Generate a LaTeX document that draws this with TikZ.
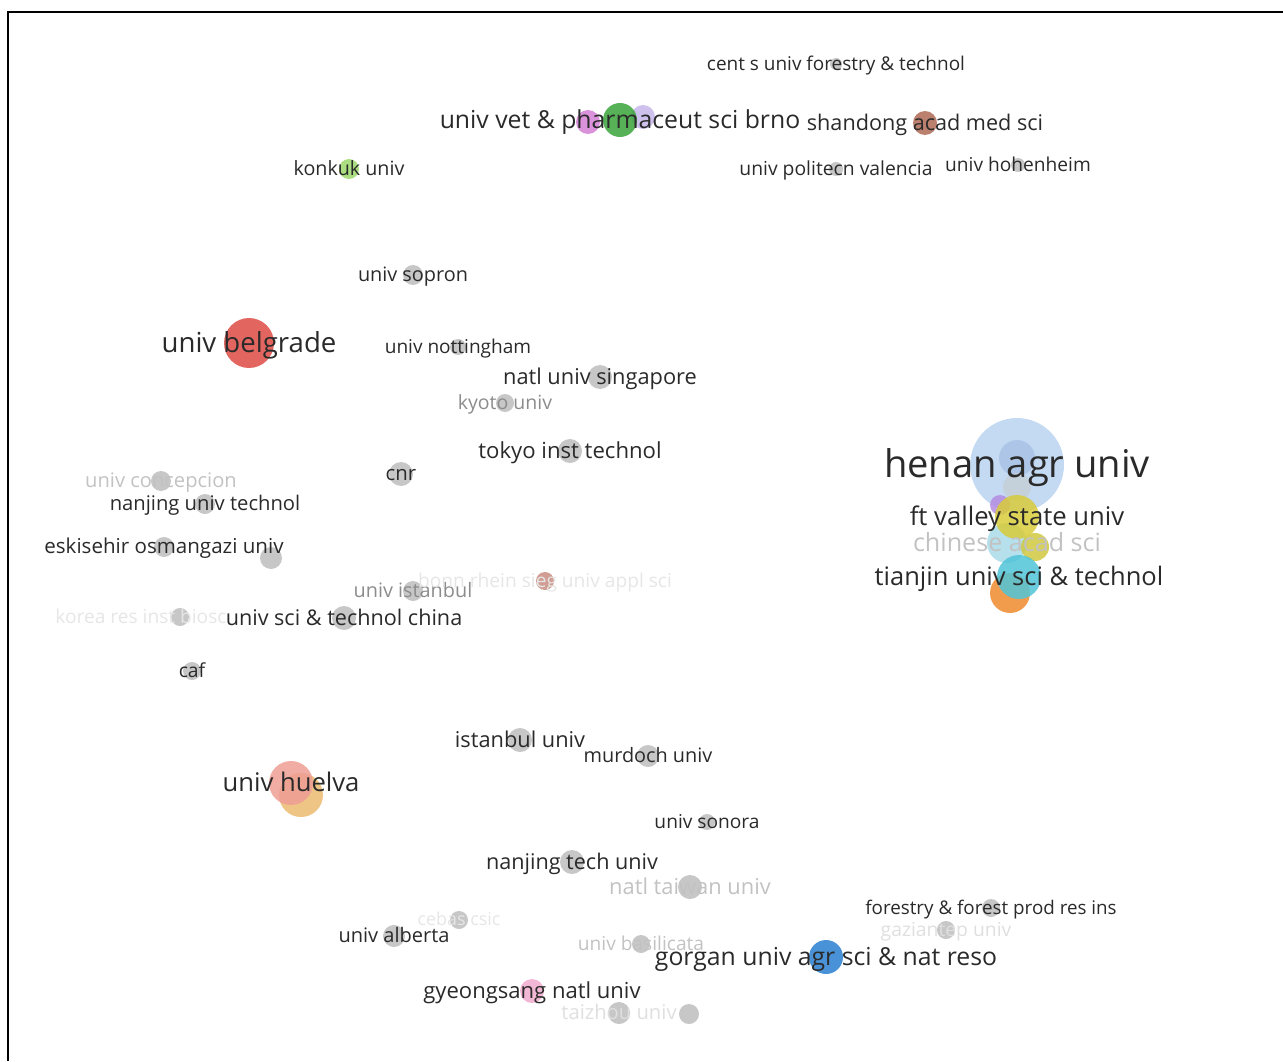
\documentclass[tikz,border=0pt]{standalone}
\usepackage{fontspec}
\setmainfont{Open Sans}
\usepackage{xcolor}
\usetikzlibrary{shapes}
\definecolor{txt}{HTML}{2A2A2A}
\definecolor{fog}{HTML}{C2C2C2}
\definecolor{mist}{HTML}{E6E6E6}
\definecolor{ash}{HTML}{8C8C8C}
\definecolor{dot}{HTML}{BDBDBD}
\definecolor{cpink}{HTML}{D47FD4}
\definecolor{clav}{HTML}{C7B6EA}
\definecolor{cgreen}{HTML}{3AA43A}
\definecolor{cbrown}{HTML}{B06A55}
\definecolor{clime}{HTML}{9BD86B}
\definecolor{cred}{HTML}{DD4B43}
\definecolor{csky}{HTML}{B9D3F0}
\definecolor{csky2}{HTML}{A9C4E6}
\definecolor{cslate}{HTML}{C5CFD6}
\definecolor{cpurp}{HTML}{B48DE0}
\definecolor{caqua}{HTML}{A9DBE8}
\definecolor{colive}{HTML}{D0C840}
\definecolor{cyell}{HTML}{D8CC3A}
\definecolor{corng}{HTML}{EE8A2E}
\definecolor{ccyan}{HTML}{4FC4D8}
\definecolor{crose}{HTML}{C98D80}
\definecolor{ctan}{HTML}{ECBB70}
\definecolor{csalm}{HTML}{EE9D94}
\definecolor{cblue}{HTML}{2A7FD0}
\definecolor{cblush}{HTML}{F0AACC}
\tikzstyle{bub}=[circle,inner sep=0pt,draw=none,fill opacity=0.85]
\tikzstyle{rad}=[minimum size=#1*0.04cm]
\tikzstyle{lab}=[inner sep=0pt,text=txt,anchor=base,yshift=-0.33*#1pt,font=\fontsize{#1}{#1}\selectfont]
\def\org#1#2#3#4{\node[bub,rad=#3,fill=#4] (#1) at (#2) {}}

\begin{document}
\begin{tikzpicture}[x=0.02cm,y=-0.02cm]
    \useasboundingbox (0,0) rectangle (1283,1061);
    \draw[line width=1.2pt] (8,1061) -- (8,12) -- (1283,12);
    % bubbles
    \org{b-cent}{836,64}{6}{dot};
    \org{b-vetpink}{588,122}{12}{cpink};
    \org{b-vetlav}{643,117}{12}{clav};
    \org{b-vet}{620,120}{17}{cgreen};
    \org{b-shand}{925,123}{12}{cbrown};
    \org{b-konkuk}{349,169}{10}{clime};
    \org{b-valen}{836,169}{7}{dot};
    \org{b-hohen}{1018,165}{7}{dot};
    \org{b-sopron}{413,275}{10}{dot};
    \org{b-belgr}{249,343}{25}{cred};
    \org{b-notts}{458,347}{8}{dot};
    \org{b-singa}{600,377}{12}{dot};
    \org{b-kyoto}{505,403}{9}{dot};
    \org{b-tokyo}{570,451}{12}{dot};
    \org{b-cnr}{401,474}{12}{dot};
    \org{b-henan}{1017,465}{47}{csky};
    \org{b-henin}{1017,458}{18}{csky2};
    \org{b-hengr}{1017,487}{14}{cslate};
    \org{b-ftpur}{1000,505}{10}{cpurp};
    \org{b-chin}{1007,543}{20}{caqua};
    \org{b-chinol}{1035,547}{14}{colive};
    \org{b-ftval}{1017,517}{22}{cyell};
    \org{b-tjor}{1010,593}{20}{corng};
    \org{b-tianj}{1019,577}{22}{ccyan};
    \org{b-conce}{161,481}{10}{dot};
    \org{b-nanjt}{205,504}{10}{dot};
    \org{b-eski}{164,547}{10}{dot};
    \org{b-eskib}{271,558}{11}{dot};
    \org{b-istu}{413,591}{10}{dot};
    \org{b-bonn}{545,581}{9}{crose};
    \org{b-korea}{180,617}{9}{dot};
    \org{b-ustc}{344,618}{12}{dot};
    \org{b-caf}{192,671}{9}{dot};
    \org{b-istanb}{520,740}{12}{dot};
    \org{b-murd}{648,756}{11}{dot};
    \org{b-huelor}{301,795}{22}{ctan};
    \org{b-huelva}{291,783}{22}{csalm};
    \org{b-sonora}{707,822}{8}{dot};
    \org{b-njtech}{572,862}{12}{dot};
    \org{b-taiwan}{690,887}{12}{dot};
    \org{b-forest}{991,908}{9}{dot};
    \org{b-gazi}{946,930}{9}{dot};
    \org{b-albert}{394,936}{11}{dot};
    \org{b-cebas}{459,920}{9}{dot};
    \org{b-basil}{641,944}{9}{dot};
    \org{b-gorgan}{826,957}{17}{cblue};
    \org{b-gyeong}{532,991}{12}{cblush};
    \org{b-taizh}{619,1013}{11}{dot};
    \org{b-taizb}{689,1014}{10}{dot};
    % labels
    \node[lab=10.8] (cent) at (b-cent) {cent s univ forestry \& technol};
    \node[lab=14.1] (vet) at (b-vet) {univ vet \& pharmaceut sci brno};
    \node[lab=12.3] (shand) at (b-shand) {shandong acad med sci};
    \node[lab=11.2] (konkuk) at (b-konkuk) {konkuk univ};
    \node[lab=11] (valen) at (b-valen) {univ politecn valencia};
    \node[lab=10.9] (hohen) at (b-hohen) {univ hohenheim};
    \node[lab=11.3] (sopron) at (b-sopron) {univ sopron};
    \node[lab=15.7] (belgr) at (b-belgr) {univ belgrade};
    \node[lab=10.85] (notts) at (b-notts) {univ nottingham};
    \node[lab=12.4] (singa) at (b-singa) {natl univ singapore};
    \node[lab=11.1,text=ash] (kyoto) at (b-kyoto) {kyoto univ};
    \node[lab=12.6] (tokyo) at (b-tokyo) {tokyo inst technol};
    \node[lab=11.6] (cnr) at (b-cnr) {cnr};
    \node[lab=21.7] (henan) at (b-henan) {henan agr univ};
    \node[lab=14.6] (ftval) at (b-ftval) {ft valley state univ};
    \node[lab=14.3,text=fog] (chin) at (b-chin) {chinese acad sci};
    \node[lab=14.5] (tianj) at (b-tianj) {tianjin univ sci \& technol};
    \node[lab=11.45,text=fog] (conce) at (b-conce) {univ concepcion};
    \node[lab=11.5] (nanjt) at (b-nanjt) {nanjing univ technol};
    \node[lab=11.7] (eski) at (b-eski) {eskisehir osmangazi univ};
    \node[lab=11.3,text=ash] (istu) at (b-istu) {univ istanbul};
    \node[lab=10.9,text=mist] (bonn) at (b-bonn) {bonn rhein sieg univ appl sci};
    \node[lab=10.9,text=mist,anchor=base west] (korea) at (55,617) {korea res inst biosc};
    \node[lab=12.3] (ustc) at (b-ustc) {univ sci \& technol china};
    \node[lab=11] (caf) at (b-caf) {caf};
    \node[lab=12.4] (istanb) at (b-istanb) {istanbul univ};
    \node[lab=11.3] (murd) at (b-murd) {murdoch univ};
    \node[lab=14.6] (huelva) at (b-huelva) {univ huelva};
    \node[lab=10.9] (sonora) at (b-sonora) {univ sonora};
    \node[lab=12.3] (njtech) at (b-njtech) {nanjing tech univ};
    \node[lab=12.45,text=fog] (taiwan) at (b-taiwan) {natl taiwan univ};
    \node[lab=10.7] (forest) at (b-forest) {forestry \& forest prod res ins};
    \node[lab=11,text=mist!80!fog] (gazi) at (b-gazi) {gaziantep univ};
    \node[lab=11.4] (albert) at (b-albert) {univ alberta};
    \node[lab=10.2,text=mist] (cebas) at (b-cebas) {cebas csic};
    \node[lab=10.9,text=fog] (basil) at (b-basil) {univ basilicata};
    \node[lab=14.1] (gorgan) at (b-gorgan) {gorgan univ agr sci \& nat reso};
    \node[lab=12.55] (gyeong) at (b-gyeong) {gyeongsang natl univ};
    \node[lab=11.5,text=mist!80!fog] (taizh) at (b-taizh) {taizhou univ};
  \end{tikzpicture}
\end{document}
